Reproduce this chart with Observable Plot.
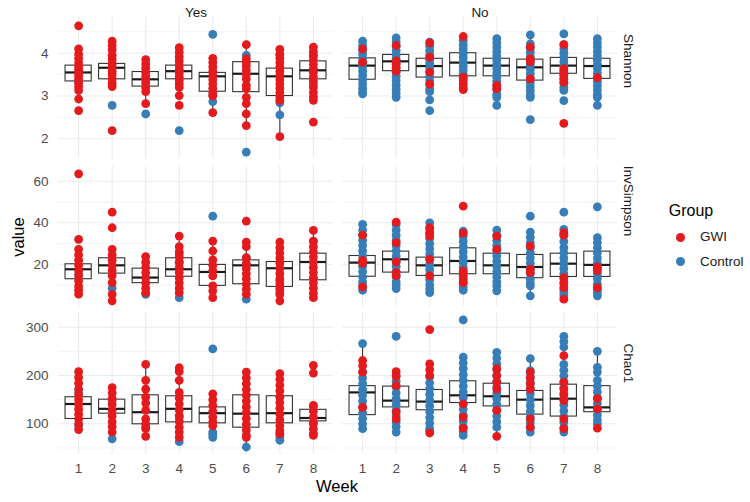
<!DOCTYPE html>
<html><head><meta charset="utf-8">
<script src="https://cdn.jsdelivr.net/npm/d3@7"></script>
<script src="https://cdn.jsdelivr.net/npm/@observablehq/plot@0.6"></script>
<style>
body{margin:0;background:#fff;}
#wrap{position:relative;width:750px;height:502px;font-family:"Liberation Sans",Arial,sans-serif;overflow:hidden;background:#fff;}
.row{position:absolute;left:0;}
.lbl{position:absolute;white-space:nowrap;transform:translate(-50%,-50%);line-height:1;}
</style></head><body><div id="wrap"></div>
<script>
const weeks = [1,2,3,4,5,6,7,8];
const panels = ["Yes","No"];
const groups = ["GWI","Control"];
const metrics = ["Shannon","InvSimpson","Chao1"];

// ---- Shannon ----
const shannonYesGWI = [
  [4.64,4.10,3.98,3.88,3.78,3.70,3.62,3.55,3.48,3.40,3.30,3.22,3.13,2.93,2.66],
  [4.28,4.18,4.08,3.95,3.85,3.75,3.66,3.58,3.50,3.40,3.30,3.22,2.19],
  [3.85,3.75,3.65,3.55,3.46,3.38,3.30,3.20,3.10,2.82],
  [4.13,4.02,3.92,3.82,3.72,3.62,3.52,3.44,3.36,3.28,3.20,3.01,2.78],
  [3.88,3.78,3.68,3.58,3.48,3.38,3.28,3.18,3.08,3.00,2.61],
  [4.20,3.87,3.78,3.70,3.60,3.50,3.40,3.25,3.17,2.97,2.82,2.58,2.31],
  [4.09,3.98,3.88,3.78,3.68,3.58,3.48,3.38,3.28,3.18,3.08,2.98,2.90,2.05],
  [4.14,4.04,3.94,3.84,3.74,3.64,3.55,3.45,3.35,3.20,3.08,2.98,2.90,2.39]
];
const shannonYesControl = [[3.34],[2.78],[2.58],[3.58,2.19],[4.44,3.02,2.87],[3.95,1.69],[3.96,2.84,2.56],[3.95,3.27]];
const shannonNoGWI = [[4.10,3.79],[4.18,3.82,3.74,3.66,3.58],[4.24,3.91,3.56,3.28],[4.39,3.44,3.36,3.28,3.20,3.15],[3.25,3.17],[4.14,3.87,3.80,3.40],[4.20,3.64,3.56,3.48,3.40,3.32,2.36],[3.43]];
const shannonNoControl = [
  [4.28,4.18,4.08,3.98,3.88,3.78,3.68,3.58,3.48,3.38,3.28,3.18,3.10,3.05],
  [4.36,4.26,4.16,4.06,3.96,3.86,3.76,3.66,3.56,3.46,3.36,3.26,3.16,3.06,2.97],
  [4.26,4.16,4.06,3.96,3.86,3.76,3.66,3.56,3.46,3.36,3.26,3.16,3.10,2.91,2.66],
  [4.30,4.20,4.10,4.00,3.90,3.80,3.70,3.60,3.50,3.44],
  [4.34,4.24,4.14,4.04,3.94,3.84,3.74,3.64,3.54,3.44,3.34,3.24,3.14,3.04,2.97,2.78],
  [4.43,4.22,4.12,4.02,3.92,3.82,3.72,3.62,3.52,3.42,3.32,3.22,3.12,3.02,2.97,2.45],
  [4.45,4.20,4.10,4.00,3.90,3.80,3.70,3.60,3.50,3.40,3.30,3.20,3.13,2.89],
  [4.34,4.24,4.14,4.04,3.94,3.84,3.74,3.64,3.54,3.44,3.34,3.24,3.14,3.04,2.97,2.78]
];
// box [q1, median, q3]
const shannonYesBox = [[3.34,3.55,3.71],[3.39,3.66,3.75],[3.22,3.39,3.56],[3.39,3.58,3.71],[3.10,3.46,3.54],[3.09,3.52,3.79],[3.00,3.46,3.64],[3.39,3.60,3.81]];
const shannonNoBox = [[3.38,3.71,3.88],[3.58,3.81,3.96],[3.43,3.70,3.87],[3.46,3.78,4.00],[3.46,3.71,3.87],[3.36,3.67,3.85],[3.52,3.71,3.89],[3.40,3.70,3.87]];

// ---- InvSimpson ----
const invSimpsonYesGWI = [
  [63.6,32.0,27.2,24.5,22,19.5,17,14.5,12,9.5,7.5,5.6],
  [45.1,37.6,27.2,24.5,22,19.5,17,14.5,11.2,5.5,2.4],
  [23.7,21,18.5,16,13.5,11,8.5,6.3],
  [33.6,28.5,26,23.5,21,18.5,16,13.5,11,8.5,6.3],
  [31.2,26.4,22.1,19.5,17,14.4,9.6,7.2,3.9],
  [40.8,30.7,28.5,23.2,20.5,18,15.5,13,10.5,8,5.6],
  [30.7,28,25.5,23,20.5,18,15.5,13,10.5,8,5.5,2.4],
  [36.3,31.2,28.5,26,23.5,21,18.5,16,13.5,11,8.5,6,3.9]
];
const invSimpsonYesControl = [[15.2],[8.5],[5.5],[25,21,3.9],[43.2],[23,3.2],[12,9,6.3],[31,13.1]];
const invSimpsonNoGWI = [[34.1,21.9,20.5,9.1],[40.3,30.4,21.1,16.0,14.5],[37.6,35.5,33.6,22.4,14.4],[48,35,16.8,14.5,12.5,11.2],[33.6,27.2],[28.8,17.6,16],[35.2,34,13.6,11.2,8.8,3.2],[18.7,17,8.8]];
const invSimpsonNoControl = [
  [39.2,36.5,34,31.5,29,26.5,24,21.5,19,16.5,14,11.5,9.5,7.5],
  [39,36.5,34,31.5,29,26.5,24,21.5,19,16.5,14,11.5,10,8.3],
  [40,37.5,35,32.5,30,27.5,25,22.5,20,17.5,15,12.5,10,8,6.3],
  [36,33.5,31,28.5,26,23.5,21,18.5,16,13.5,11,9,7.5],
  [36.5,34,31.5,29,26.5,24,21.5,19,16.5,14,11.5,9.5,7.2],
  [43.2,35.5,33,30.5,28,25.5,23,20.5,18,15.5,13,11,9.6,4.8],
  [45.1,36.8,34,31,28,25.5,23,20.5,18,15.5,13,10.5,8,6.3,4.8],
  [47.7,32.8,30.5,28,25.5,23,20.5,18,15.5,13,10.5,8,6.5,4.8]
];
const invSimpsonYesBox = [[12.8,17.6,20.0],[15.5,19.5,22.9],[10.9,13.6,17.9],[14.0,17.6,22.9],[9.6,16.3,19.7],[10.4,19.5,21.9],[9.1,18.1,21.1],[12.3,21.1,25.1]];
const invSimpsonNoBox = [[14.0,20.8,24.0],[16.0,22.4,26.1],[14.4,19.5,23.2],[15.2,21.6,27.7],[15.2,19.5,25.1],[13.3,18.7,24.5],[13.9,20.3,25.1],[13.9,19.7,26.1]];

// ---- Chao1 ----
const chao1YesGWI = [
  [208,196,184,172,160,150,140,130,120,110,100,88],
  [175,164,152,140,128,116,104,94,83],
  [223,190,172,155,143,128,110,100,90,74],
  [216,208,190,165,153,141,129,117,105,93,83,72],
  [162,150,138,126,114,104,96],
  [207,195,183,171,159,147,135,123,111,99,87,76,72],
  [204,192,180,168,156,144,132,120,108,96,86,79],
  [221,205,138,126,114,102,90,80,76]
];
const chao1YesControl = [[165,96],[148,69],[93],[114,63],[255,83,78,72],[52],[155,80,72,66],[136,100]];
const chao1NoGWI = [[231,220,207,134],[208,198,179,124,110],[295,224,212,200,81],[141,114,91],[214,200,186,172,128,74],[207,195,183,172,110,93],[241,186,172,160,148,110,90],[152,131,91]];
const chao1NoControl = [
  [266,207,195,183,171,159,147,135,123,111,100,90],
  [281,200,188,176,164,152,140,128,116,104,94,83],
  [197,185,173,161,149,137,125,113,101,90,86],
  [315,238,226,214,202,190,178,166,154,142,130,118,106,94,84,76],
  [248,236,224,212,200,188,176,164,152,140,128,116,104,93],
  [235,210,198,186,174,162,150,138,126,114,102,92,83],
  [281,270,259,223,211,199,187,175,163,151,139,127,115,103,92,83],
  [250,217,207,190,178,166,154,142,130,118,108,100]
];
const chao1YesBox = [[110,141,155],[121,131,150],[99,124,159],[103,131,157],[101,122,134],[92,121,159],[101,122,157],[105,112,129]];
const chao1NoBox = [[118,165,178],[134,148,177],[128,146,170],[143,159,188],[136,157,183],[119,150,168],[115,152,181],[124,134,178]];

// axis ticks per row
const shannonTicks = [2,3,4], shannonMinor = [2.5,3.5,4.5];
const invSimpsonTicks = [20,40,60], invSimpsonMinor = [10,30,50];
const chao1Ticks = [100,200,300], chao1Minor = [50,150,250];

const RED = "#E41A1C", BLUE = "#377EB8";

function buildPoints(src) {
  const out = [];
  for (const [panel, group, arr] of src)
    arr.forEach((vals, i) => vals.forEach(v => out.push({panel, group, week: weeks[i], value: v})));
  return out;
}
function buildBoxes(boxSrc, pts) {
  const out = [];
  for (const [panel, arr] of boxSrc)
    arr.forEach(([q1, med, q3], i) => {
      const w = weeks[i];
      const iqr = q3 - q1, lf = q1 - 1.5 * iqr, uf = q3 + 1.5 * iqr;
      const vals = pts.filter(d => d.panel === panel && d.week === w).map(d => d.value).filter(v => v >= lf && v <= uf);
      out.push({panel, week: w, q1, med, q3, lo: Math.min(q1, d3.min(vals)), hi: Math.max(q3, d3.max(vals))});
    });
  return out;
}

const rows = [
  {label: "Shannon", ticks: shannonTicks, minor: shannonMinor, domain: [1.528, 4.846], top: 0, mt: 16.5, mb: 3, ph: 142,
   pts: [["Yes","GWI",shannonYesGWI],["Yes","Control",shannonYesControl],["No","GWI",shannonNoGWI],["No","Control",shannonNoControl]],
   box: [["Yes",shannonYesBox],["No",shannonNoBox]]},
  {label: "InvSimpson", ticks: invSimpsonTicks, minor: invSimpsonMinor, domain: [-0.58, 67.6], top: 161.5, mt: 3, mb: 3, ph: 141.5,
   pts: [["Yes","GWI",invSimpsonYesGWI],["Yes","Control",invSimpsonYesControl],["No","GWI",invSimpsonNoGWI],["No","Control",invSimpsonNoControl]],
   box: [["Yes",invSimpsonYesBox],["No",invSimpsonNoBox]]},
  {label: "Chao1", ticks: chao1Ticks, minor: chao1Minor, domain: [37.5, 330.4], top: 309, mt: 3, mb: 48.5, ph: 141.5,
   pts: [["Yes","GWI",chao1YesGWI],["Yes","Control",chao1YesControl],["No","GWI",chao1NoGWI],["No","Control",chao1NoControl]],
   box: [["Yes",chao1YesBox],["No",chao1NoBox]]}
];

const wrap = document.getElementById("wrap");
const HW = 0.39;
rows.forEach((r, ri) => {
  const pts = buildPoints(r.pts);
  const boxes = buildBoxes(r.box, pts);
  const last = ri === rows.length - 1;
  const marks = [
    Plot.ruleY(r.minor, {stroke: "#EBEBEB", strokeWidth: 0.6}),
    Plot.ruleY(r.ticks, {stroke: "#EBEBEB", strokeWidth: 1.1}),
    Plot.ruleX(weeks, {stroke: "#EBEBEB", strokeWidth: 1.1}),
    Plot.ruleX(boxes, {fx: "panel", x: "week", y1: "lo", y2: "q1", stroke: "#333", strokeWidth: 1.1}),
    Plot.ruleX(boxes, {fx: "panel", x: "week", y1: "q3", y2: "hi", stroke: "#333", strokeWidth: 1.1}),
    Plot.rect(boxes, {fx: "panel", x1: d => d.week - HW, x2: d => d.week + HW, y1: "q1", y2: "q3", fill: "white", stroke: "#333", strokeWidth: 1.1}),
    Plot.ruleY(boxes, {fx: "panel", y: "med", x1: d => d.week - HW, x2: d => d.week + HW, stroke: "#1a1a1a", strokeWidth: 2.2}),
    Plot.dot(pts.filter(d => d.group === "Control"), {fx: "panel", x: "week", y: "value", r: 4.4, fill: BLUE}),
    Plot.dot(pts.filter(d => d.group === "GWI"), {fx: "panel", x: "week", y: "value", r: 4.4, fill: RED}),
    Plot.text([r.label], {fx: () => "No", text: d => d, frameAnchor: "right", dx: 11, rotate: 90, fontSize: 13.5, fill: "#1a1a1a"})
  ];
  if (ri === 0) marks.push(Plot.text(panels, {fx: d => d, text: d => d, frameAnchor: "top", dy: -9.5, fontSize: 13.5, fill: "#1a1a1a"}));
  const svg = Plot.plot({
    width: 650, height: r.mt + r.ph + r.mb,
    marginLeft: 57, marginRight: 31.8, marginTop: r.mt, marginBottom: r.mb,
    style: {fontFamily: "'Liberation Sans', Arial, sans-serif", fontSize: "13.5px", color: "#4d4d4d", background: "transparent", overflow: "visible"},
    fx: {domain: panels, padding: 0.0302, axis: null, label: null},
    x: {type: "linear", domain: [0.4, 8.6], ticks: weeks, tickFormat: d => String(d), tickSize: 0, tickPadding: 9, label: null, axis: last ? "bottom" : null},
    y: {domain: r.domain, ticks: r.ticks, tickFormat: d => String(d), tickSize: 0, tickPadding: 10, label: null},
    marks
  });
  svg.classList.add("row");
  svg.style.top = r.top + "px";
  svg.style.position = "absolute";
  wrap.appendChild(svg);
});

function addLabel(text, x, y, css) {
  const d = document.createElement("div");
  d.className = "lbl";
  d.textContent = text;
  d.style.left = x + "px"; d.style.top = y + "px";
  Object.assign(d.style, css || {});
  wrap.appendChild(d);
  return d;
}
addLabel("value", 17.5, 237, {fontSize: "16.5px", color: "#000", transform: "translate(-50%,-50%) rotate(-90deg)"});
addLabel("Week", 337, 486, {fontSize: "16.5px", color: "#000"});
// legend
addLabel("Group", 691, 211, {fontSize: "16px", color: "#000"});
const legendItems = [{g: groups[0], c: RED, y: 237.3}, {g: groups[1], c: BLUE, y: 261.7}];
legendItems.forEach(it => {
  const dot = document.createElement("div");
  Object.assign(dot.style, {position: "absolute", left: (680 - 4.5) + "px", top: (it.y - 4.5) + "px", width: "9px", height: "9px", borderRadius: "50%", background: it.c});
  wrap.appendChild(dot);
  addLabel(it.g, 700, it.y, {fontSize: "13.5px", color: "#1a1a1a", transform: "translate(0,-50%)"});
});
</script></body></html>
